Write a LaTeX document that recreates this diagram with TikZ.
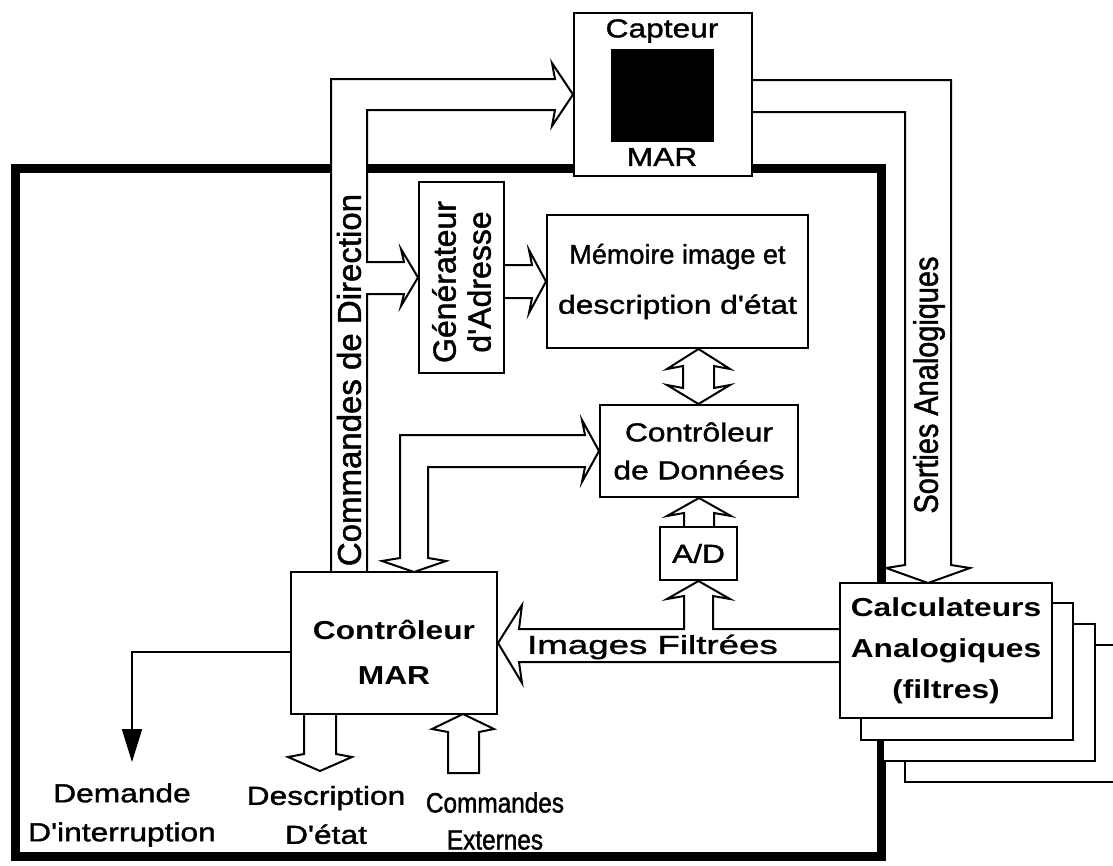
\documentclass[tikz,border=0pt]{standalone}
\usepackage{fontspec}
\setmainfont{Liberation Sans}
\newfontfamily\regA{Liberation Sans}[FakeStretch=1.22,FakeBold=1.4]
\newfontfamily\regWide{Liberation Sans}[FakeStretch=1.41,FakeBold=1.4]
\newfontfamily\regNarrow{Liberation Sans}[FakeStretch=0.87,FakeBold=1.4]
\newfontfamily\regPlain{Liberation Sans}[FakeStretch=1.0,FakeBold=1.4]
\newfontfamily\heavy{Liberation Sans Bold}[FakeStretch=1.22]
\newfontfamily\vertfont{Liberation Sans}[FakeBold=1.4]
\newfontfamily\narrowfont{Liberation Sans}[FakeStretch=0.85,FakeBold=1.4]
\usetikzlibrary{arrows.meta}
\pgfdeclarelayer{back}
\pgfsetlayers{back,main}
\begin{document}
\begin{tikzpicture}[x=1pt,y=-1pt,
  blk/.style={draw, line width=2pt, fill=white, rectangle, inner sep=0pt},
  hollow/.style={draw, line width=2pt, fill=white, line join=miter, miter limit=20},
  lbl/.style={font=\regA\fontsize{26}{39}\selectfont, align=center, inner sep=0pt},
  vlbl/.style={font=\vertfont\fontsize{32}{35}\selectfont, align=center, inner sep=0pt, rotate=90},
  wire/.style={line width=2pt}
]
\useasboundingbox (0,0) rectangle (1113,865);

% ---------- blocks ----------
\node[blk, minimum width=178pt, minimum height=163pt] (sensor) at (663,94.5) {};
\node[fill=black, minimum width=103pt, minimum height=93pt, inner sep=0pt] (chip) at (662.5,95.5) {};
\node[lbl] (captlbl) at (662,31) {Capteur};
\node[lbl] (sensmar) at (662,157) {MAR};

\node[blk, minimum width=85pt, minimum height=191pt] (gen) at (461.5,277.5) {};
\node[vlbl] (genlbl) at (461.5,282) {Générateur\\d'Adresse};

\node[blk, minimum width=261pt, minimum height=133pt,
      font=\regA\fontsize{26}{50}\selectfont, align=center] (mem) at (677.5,281.5)
      {{\regPlain\fontsize{27}{50}\selectfont Mémoire image et}\\description d'état};

\node[blk, minimum width=198pt, minimum height=92pt,
      font=\regA\fontsize{26}{38}\selectfont, align=center] (data) at (699,451)
      {Contrôleur\\de Données};

\node[blk, minimum width=77pt, minimum height=53pt, lbl] (ad) at (698.5,553.5) {A/D};

\node[blk, minimum width=206pt, minimum height=142pt] (mar) at (394,643) {};
\node[font=\heavy\fontsize{26}{45}\selectfont, align=center, inner sep=0pt] (marlbl) at (394,652)
      {Contrôleur\\MAR};

% stack of analog computers, back to front
\node[blk, minimum width=212pt, minimum height=137pt] (calc4) at (1011,713.5) {};
\node[blk, minimum width=212pt, minimum height=137pt] (calc3) at (989,692.5) {};
\node[blk, minimum width=212pt, minimum height=137pt] (calc2) at (967,671.5) {};
\node[blk, minimum width=212pt, minimum height=135pt,
      font=\heavy\fontsize{26}{41}\selectfont, align=center] (calc) at (946,650.5)
      {Calculateurs\\Analogiques\\(filtres)};

% ---------- outer frame and buses ----------
\begin{pgfonlayer}{back}
\fill[white] (0,0) rectangle (1113,865);
\draw[line width=9pt] (15,168) rectangle (881,856);

% direction commands: MAR controller -> sensor, with branch to the address generator
\draw[hollow] (331,572) -- (331,79) -- (555,79) -- (552,63) -- (sensor.west)
  -- (552,126) -- (555,110) -- (367,110) -- (367,262) -- (404,262) -- (401,249)
  -- (gen.west) -- (401,306) -- (404,294) -- (367,294) -- (367,572);
\node[vlbl, font=\vertfont\fontsize{33}{35}\selectfont] (cmddir) at (349,380) {Commandes de Direction};

% address generator -> image memory
\draw[hollow] (504,265) -- (532,265) -- (529,250) -- (mem.west) -- (529,313)
  -- (532,298) -- (504,298);

% image memory <-> data controller
\draw[hollow] (mem.south -| ad) -- (730,369) -- (714,366) -- (714,388) -- (730,385)
  -- (data.north -| ad) -- (667,385) -- (683,388) -- (683,366) -- (667,369) -- cycle;

% A/D -> data controller
\draw[hollow] (684,527) -- (684,513) -- (667,516) -- (data.south) -- (731,516)
  -- (714,513) -- (714,527);

% filtered images: analog computers -> MAR controller and A/D
\draw[hollow] (840,629) -- (713,629) -- (713,596) -- (730,599) -- (ad.south)
  -- (667,599) -- (684,596) -- (684,629) -- (519,629) -- (522,605) -- (mar.east)
  -- (522,683) -- (519,662) -- (840,662);
\node[font=\regWide\fontsize{26}{26}\selectfont, inner sep=0pt, anchor=west] (imgf) at (527,647) {Images Filtrées};

% data controller <-> MAR controller
\draw[hollow] (400,558) -- (400,435) -- (585,435) -- (582,420) -- (data.west)
  -- (582,482) -- (585,467) -- (428,467) -- (428,558) -- (446,561) -- (414,572)
  -- (382,561) -- cycle;

% analog outputs: sensor -> analog computers
\draw[hollow] (752,80) -- (951,80) -- (951,565) -- (970,568) -- (928,583)
  -- (886,568) -- (905,565) -- (905,112) -- (752,112);
\node[font=\narrowfont\fontsize{34}{34}\selectfont, inner sep=0pt, rotate=90] (sortlbl) at (929,385) {Sorties Analogiques};

% state description out of the MAR controller
\draw[hollow] (304,714) -- (304,754) -- (288,757) -- (320,771) -- (352,757)
  -- (336,754) -- (336,714);
% external commands into the MAR controller
\draw[hollow] (448,773) -- (448,732) -- (432,729) -- (463,714) -- (494,729)
  -- (479,732) -- (479,773) -- cycle;

% interrupt request
\coordinate (irq) at (132,762);
\draw[wire, -{Triangle[length=33pt,width=20pt]}] ([yshift=-9pt]mar.west) -| (irq);
\end{pgfonlayer}

% ---------- bottom labels ----------
\node[lbl] (irqlbl) at (122,815) {Demande\\D'interruption};
\node[lbl] (statlbl) at (326,815) {Description\\D'état};
\node[lbl, font=\regNarrow\fontsize{28}{37}\selectfont] (extlbl) at (495,821) {Commandes\\Externes};
\end{tikzpicture}
\end{document}
